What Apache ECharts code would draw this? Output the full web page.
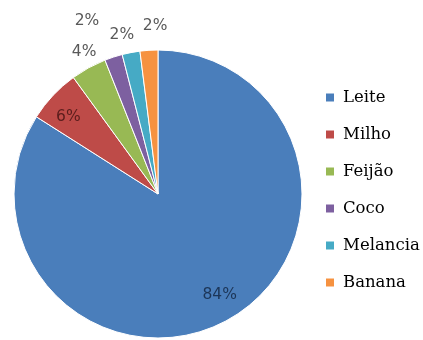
<!DOCTYPE html>
<html>
<head>
<meta charset="utf-8">
<script src="https://cdn.jsdelivr.net/npm/echarts@6/dist/echarts.min.js"></script>
<style>
html,body{margin:0;padding:0;background:#ffffff;}
#chart{width:423px;height:340px;}
</style>
</head>
<body>
<div id="chart"></div>
<script>
// Data
const categories = ['Leite', 'Milho', 'Feijão', 'Coco', 'Melancia', 'Banana'];
const values = [84, 6, 4, 2, 2, 2];
const labelTexts = ['84%', '6%', '4%', '2%', '2%', '2%'];

// Styles
const colors = ['#4A7EBB', '#BE4B48', '#98B954', '#7D60A0', '#46AAC5', '#F69240'];
const labelColors = ['#1C3557', '#5A1D1C', '#595959', '#595959', '#595959', '#595959'];
// label placement: radial distance (px from centre) and angle nudge (deg) from slice mid-angle
const labelRadius = [118, 118, 160, 187, 163, 168];
const labelAngleNudge = [2.7, 2.6, -1.3, 4.3, 2.0, -2.6];

const CX = 158, CY = 194, R = 144, START = 90;
const total = values.reduce((a, b) => a + b, 0);
const midAngles = [];
let cum = 0;
values.forEach(v => { midAngles.push(START - (cum + v / 2) / total * 360); cum += v; });

const chart = echarts.init(document.getElementById('chart'), null, {renderer: 'canvas'});
chart.setOption({
  animation: false,
  color: colors,
  legend: {
    orient: 'vertical',
    left: 324,
    top: 89,
    padding: 0,
    itemWidth: 10,
    itemHeight: 10,
    itemGap: 20,
    icon: 'rect',
    data: categories,
    textStyle: {
      fontFamily: 'DejaVu Serif',
      fontSize: 16.5,
      lineHeight: 17,
      color: '#000000',
      padding: [0, 0, 0, 3]
    }
  },
  series: [{
    type: 'pie',
    center: [CX, CY],
    radius: [0, R],
    startAngle: START,
    clockwise: true,
    avoidLabelOverlap: false,
    itemStyle: {borderColor: '#ffffff', borderWidth: 1},
    label: {
      show: true,
      position: 'inside',
      fontFamily: 'DejaVu Sans',
      fontSize: 15.5,
      formatter: p => labelTexts[p.dataIndex]
    },
    labelLine: {show: false},
    emphasis: {disabled: true},
    labelLayout: function (params) {
      const i = params.dataIndex;
      const a = (midAngles[i] + labelAngleNudge[i]) * Math.PI / 180;
      return {
        x: CX + labelRadius[i] * Math.cos(a),
        y: CY - labelRadius[i] * Math.sin(a),
        align: 'center',
        verticalAlign: 'middle'
      };
    },
    data: categories.map((c, i) => ({
      name: c,
      value: values[i],
      label: {color: labelColors[i]}
    }))
  }]
});
</script>
</body>
</html>
